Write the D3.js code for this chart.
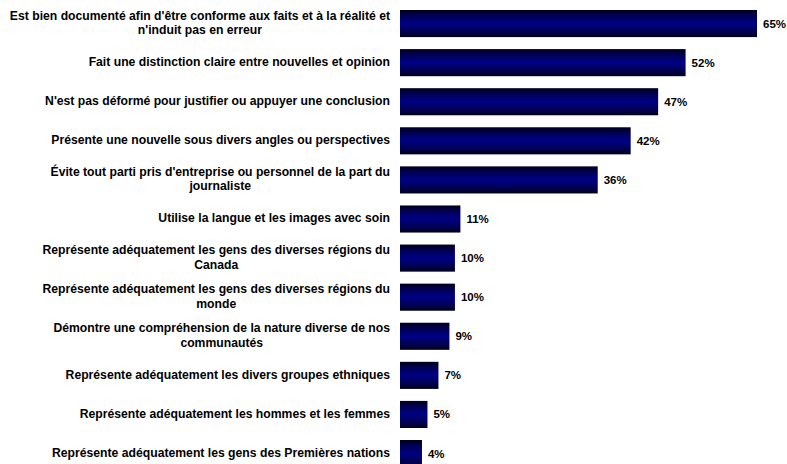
<!DOCTYPE html>
<html>
<head>
<meta charset="utf-8">
<script src="https://cdn.jsdelivr.net/npm/d3@7"></script>
<style>
  html, body { margin: 0; padding: 0; background: #fff; }
  svg { display: block; }
  text { font-family: "Liberation Sans", Arial, sans-serif; font-weight: bold; fill: #000; }
</style>
</head>
<body>
<svg id="chart" width="787" height="464"></svg>
<script>
// Survey items (line breaks mark where long labels wrap)
const categories = [
  "Est bien documenté afin d'être conforme aux faits et à la réalité et\nn'induit pas en erreur",
  "Fait une distinction claire entre nouvelles et opinion",
  "N'est pas déformé pour justifier ou appuyer une conclusion",
  "Présente une nouvelle sous divers angles ou perspectives",
  "Évite tout parti pris d'entreprise ou personnel de la part du\njournaliste",
  "Utilise la langue et les images avec soin",
  "Représente adéquatement les gens des diverses régions du\nCanada",
  "Représente adéquatement les gens des diverses régions du\nmonde",
  "Démontre une compréhension de la nature diverse de nos\ncommunautés",
  "Représente adéquatement les divers groupes ethniques",
  "Représente adéquatement les hommes et les femmes",
  "Représente adéquatement les gens des Premières nations"
];
// Share of respondents (%)
const values = [65, 52, 47, 42, 36, 11, 10, 10, 9, 7, 5, 4];

const svg = d3.select("#chart");
const labelSize = "12.2px";

const x = d3.scaleLinear().domain([0, 65]).range([400, 757]);
const y = d3.scaleBand()
  .domain(categories)
  .range([4, 473.1])
  .paddingInner(0.307)
  .paddingOuter(0.1535);

// Vertical shading: dark edges, navy core
const defs = svg.append("defs");
const grad = defs.append("linearGradient")
  .attr("id", "barShade")
  .attr("x1", 0).attr("y1", 0).attr("x2", 0).attr("y2", 1);
[
  [0, "#000018"],
  [0.18, "#00004e"],
  [0.5, "#000086"],
  [0.82, "#00004e"],
  [1, "#000018"]
].forEach(([o, c]) => grad.append("stop").attr("offset", o).attr("stop-color", c));

const rows = categories.map((c, i) => ({ cat: c, val: values[i] }));

svg.append("g").selectAll("rect")
  .data(rows)
  .join("rect")
  .attr("x", x(0))
  .attr("y", d => y(d.cat))
  .attr("width", d => x(d.val) - x(0))
  .attr("height", y.bandwidth())
  .attr("fill", "url(#barShade)");

// Category labels, right-aligned left of the bars
const lineH = 14.5;
const labels = svg.append("g").selectAll("text")
  .data(rows)
  .join("text")
  .attr("text-anchor", "middle")
  .style("font-size", labelSize);

labels.each(function (d) {
  const lines = d.cat.split("\n");
  const cy = y(d.cat) + y.bandwidth() / 2;
  const t = d3.select(this);
  // measure widest line so wrapped lines centre on a block aligned right
  const tmp = svg.append("text").style("font-size", labelSize);
  const widths = lines.map(l => { tmp.text(l); return tmp.node().getComputedTextLength(); });
  tmp.remove();
  const w = d3.max(widths);
  const cx = 390 - w / 2;
  lines.forEach((l, k) => {
    t.append("tspan")
      .attr("x", cx)
      .attr("y", cy + (k - (lines.length - 1) / 2) * lineH - 1)
      .attr("dy", "0.35em")
      .text(l);
  });
});

// Value labels at bar ends
svg.append("g").selectAll("text")
  .data(rows)
  .join("text")
  .attr("x", d => x(d.val) + 6)
  .attr("y", d => y(d.cat) + y.bandwidth() / 2)
  .attr("dy", "0.35em")
  .style("font-size", "11.5px")
  .text(d => d.val + "%");
</script>
</body>
</html>
